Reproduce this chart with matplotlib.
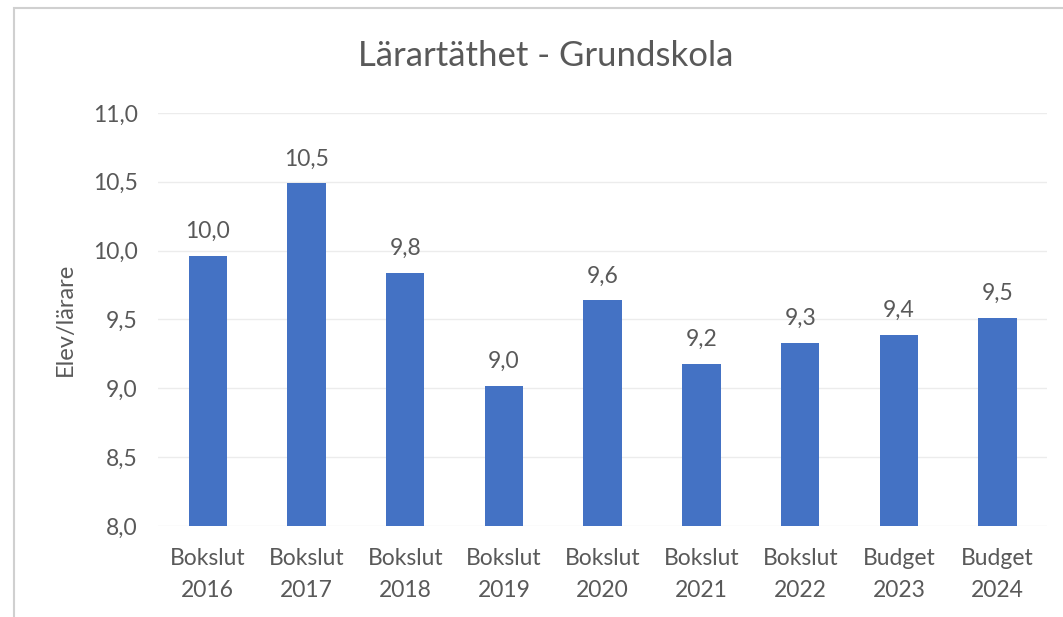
import matplotlib.pyplot as plt
from matplotlib.patches import Rectangle

categories = ['Bokslut\n2016', 'Bokslut\n2017', 'Bokslut\n2018', 'Bokslut\n2019',
              'Bokslut\n2020', 'Bokslut\n2021', 'Bokslut\n2022', 'Budget\n2023',
              'Budget\n2024']
values = [9.96, 10.49, 9.84, 9.02, 9.64, 9.18, 9.33, 9.39, 9.51]
yticks = [8.0, 8.5, 9.0, 9.5, 10.0, 10.5, 11.0]

plt.rcParams['font.family'] = ['Lato', 'DejaVu Sans']
text_color = '#595959'

fig = plt.figure(figsize=(10.63, 6.17), dpi=100)
ax = fig.add_axes([0.149, 0.1475, 0.836, 0.6695])

x = range(len(categories))
bars = ax.bar(x, values, width=0.39, color='#4472C4', zorder=3)
for b, v in zip(bars, values):
    ax.text(b.get_x() + b.get_width() / 2, v + 0.1, f'{v:.1f}'.replace('.', ','),
            ha='center', va='bottom', fontsize=16.5, color=text_color)

ax.set_ylim(8.0, 11.0)
ax.set_xlim(-0.5, len(categories) - 0.5)
ax.set_yticks(yticks)
ax.set_yticklabels([f'{t:.1f}'.replace('.', ',') for t in yticks])
ax.set_xticks(list(x))
ax.set_xticklabels(categories, linespacing=1.65)
ax.tick_params(axis='both', length=0, labelsize=16.5, colors=text_color)
ax.tick_params(axis='y', pad=15)
ax.tick_params(axis='x', pad=16)
ax.grid(axis='y', color='#ececec', linewidth=1, zorder=0)
for s in ax.spines.values():
    s.set_visible(False)

ax.set_ylabel('Elev/lärare', fontsize=17, color=text_color, labelpad=12)
fig.text(0.513, 0.91, 'Lärartäthet - Grundskola', ha='center', va='center',
         fontsize=25, color=text_color)

# chart frame
fig.patches.append(Rectangle((0.013, -0.1), 1.2, 1.087, transform=fig.transFigure,
                             fill=False, edgecolor='#d0d0d0', linewidth=1.5))

fig.savefig('out.png', dpi=100)
